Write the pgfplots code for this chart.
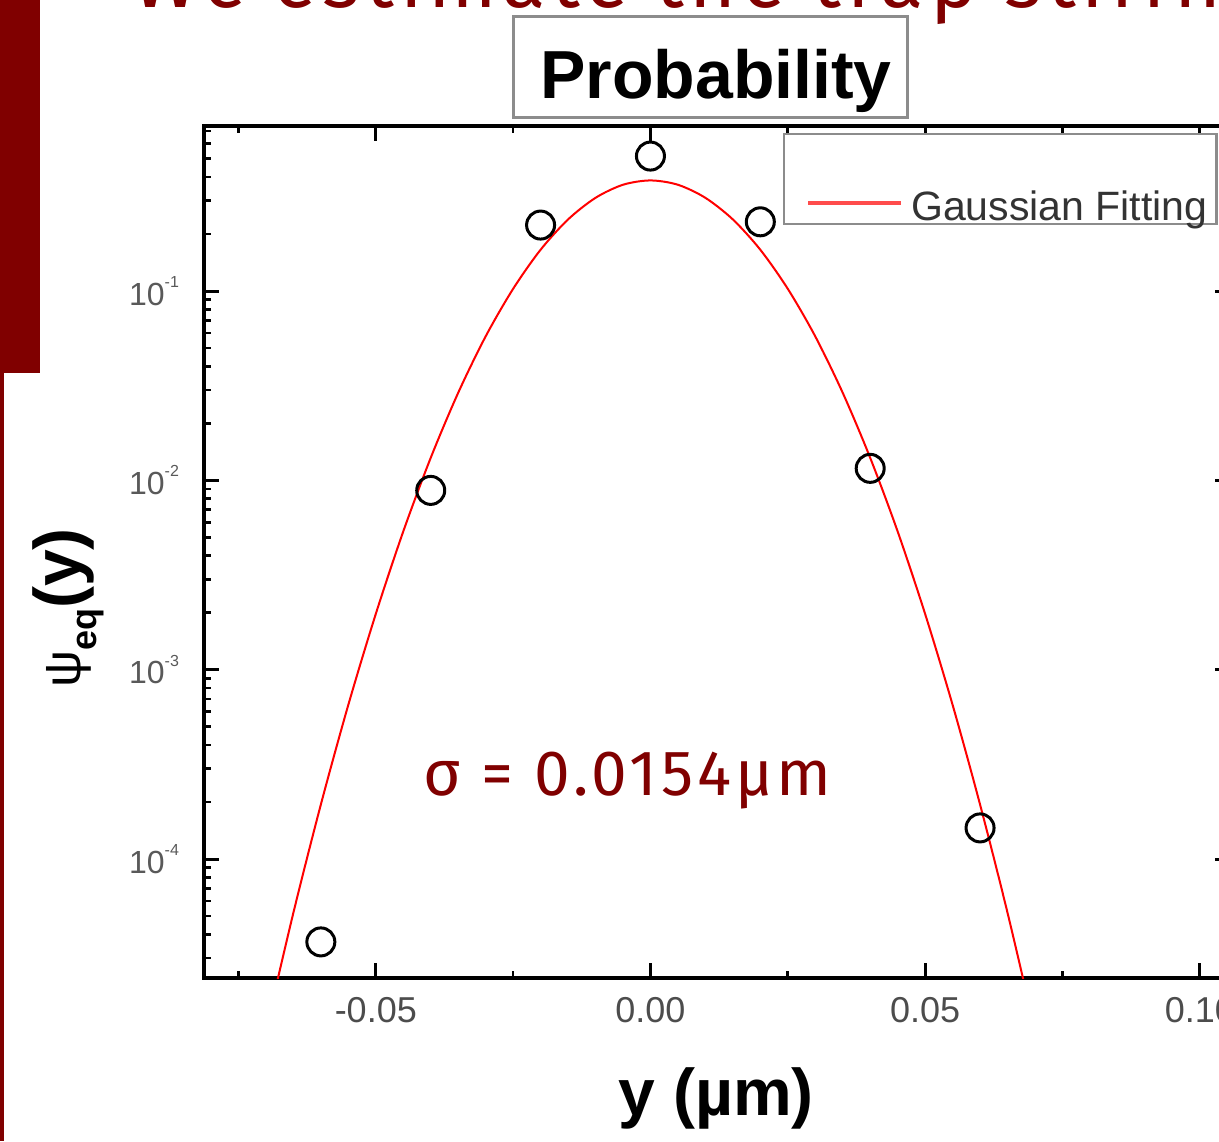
\documentclass[border=0pt]{standalone}
\usepackage{pgfplots}
\pgfplotsset{compat=1.18}
\usepackage{fontspec}
\setmainfont{Liberation Sans}
\newfontfamily\sigmafont{Fira Sans}[LetterSpace=6]
\newfontfamily\titlefont{Fira Sans}[LetterSpace=7]
\definecolor{darkred}{RGB}{128,0,0}

\pgfplotstableread{
x y
-0.070 1.25e-5
-0.065 5.20e-5
-0.060 1.94e-4
-0.055 6.52e-4
-0.050 1.97e-3
-0.045 5.37e-3
-0.040 0.01315
-0.035 0.0290
-0.030 0.0576
-0.025 0.1027
-0.020 0.1652
-0.015 0.2388
-0.010 0.3106
-0.005 0.3641
0.000 0.3838
0.005 0.3641
0.010 0.3106
0.015 0.2388
0.020 0.1652
0.025 0.1027
0.030 0.0576
0.035 0.0290
0.040 0.01315
0.045 5.37e-3
0.050 1.97e-3
0.055 6.52e-4
0.060 1.94e-4
0.065 5.20e-5
0.070 1.25e-5
}\fitdata

\pgfplotstableread{
x y
-0.06 3.65e-5
-0.04 8.85e-3
-0.02 0.223
0.00 0.516
0.02 0.232
0.04 0.01157
0.06 1.46e-4
}\probdata

\begin{document}
\begin{tikzpicture}
\useasboundingbox (0,0) rectangle (609.5pt,-570.5pt);
\clip (0,0) rectangle (609.5pt,-570.5pt);
\fill[darkred] (0,0) rectangle (20pt,-186.5pt);
\fill[darkred] (0,-186.5pt) rectangle (2pt,-570.5pt);
\node[anchor=base west, text=darkred, inner sep=0pt] at (66pt,-3.5pt)
  {\titlefont\fontsize{40}{40}\selectfont We estimate the trap stiffness};

\begin{axis}[
  at={(102pt,-489pt)}, anchor=south west,
  scale only axis, width=513pt, height=426pt,
  ymode=log,
  xmin=-0.08127, xmax=0.1055,
  ymin=2.352e-5, ymax=0.7438,
  axis line style={line width=2.4pt},
  tick align=inside,
  major tick length=7.5pt, minor tick length=3.5pt,
  major tick style={line width=1.5pt, black},
  minor tick style={line width=1.3pt, black},
  xtick={-0.05,0,0.05,0.1},
  xticklabels={-0.05,0.00,0.05,0.10},
  minor xtick={-0.075,-0.025,0.025,0.075},
  ytick={1e-4,1e-3,1e-2,1e-1},
  yticklabels={10\raisebox{0.55em}{\fontsize{8}{8}\selectfont -4},
               10\raisebox{0.55em}{\fontsize{8}{8}\selectfont -3},
               10\raisebox{0.55em}{\fontsize{8}{8}\selectfont -2},
               10\raisebox{0.55em}{\fontsize{8}{8}\selectfont -1}},
  minor ytick={3e-5,4e-5,5e-5,6e-5,7e-5,8e-5,9e-5,
               2e-4,3e-4,4e-4,5e-4,6e-4,7e-4,8e-4,9e-4,
               2e-3,3e-3,4e-3,5e-3,6e-3,7e-3,8e-3,9e-3,
               2e-2,3e-2,4e-2,5e-2,6e-2,7e-2,8e-2,9e-2,
               2e-1,3e-1,4e-1,5e-1,6e-1,7e-1},
  xticklabel style={font=\fontsize{18}{18}\selectfont, text=black!70, yshift=-6pt},
  yticklabel style={font=\fontsize{16}{16}\selectfont, text=black!65, xshift=-9pt},
  legend style={
    at={(0.5643,0.9918)}, anchor=north west,
    draw=black!45, line width=1.2pt, fill=white,
    font=\fontsize{20.5}{20.5}\selectfont, text=black!80,
    inner xsep=4.5pt, inner ysep=0pt,
    row sep=0pt, column sep=4pt,
    nodes={inner sep=0pt},
  },
  legend cell align=left,
  legend image code/.code={
    \path[draw=none] (0pt,0pt) -- (7.5pt,0pt);
    \draw[#1, line width=2pt, draw=red!70] (7.5pt,2.5pt) -- (54pt,2.5pt);},
]
\addlegendimage{empty legend}
\addlegendentry{\rule{0pt}{27pt}}
\addplot[red, line width=1pt, smooth] table[x=x, y=y] {\fitdata};
\addlegendentry{\rule[-5pt]{0pt}{1pt}Gaussian Fitting}
\addplot[only marks, mark=o, mark size=7pt, line width=1.5pt, black] table[x=x, y=y] {\probdata};
\end{axis}

\draw[black!45, line width=1.5pt, fill=white] (256.5pt,-8pt) rectangle (453.5pt,-58.5pt);
\node[anchor=base, inner sep=0pt] at (358pt,-49pt)
  {\fontsize{34}{34}\selectfont\bfseries Probability};

\node[anchor=base west, text=darkred, inner sep=0pt] at (211.5pt,-397.5pt)
  {\sigmafont\fontsize{32}{32}\selectfont σ = 0.0154µm};

\node[anchor=base, inner sep=0pt] at (358pt,-557.5pt)
  {\fontsize{33}{33}\selectfont\bfseries y (µm)};

\node[anchor=base, inner sep=0pt, rotate=90] at (40pt,-304pt)
  {\fontsize{33}{33}\selectfont {\fontsize{26}{26}\selectfont ψ}\raisebox{-8pt}{\fontsize{18}{18}\selectfont\bfseries eq}\textbf{(y)}};
\end{tikzpicture}
\end{document}
